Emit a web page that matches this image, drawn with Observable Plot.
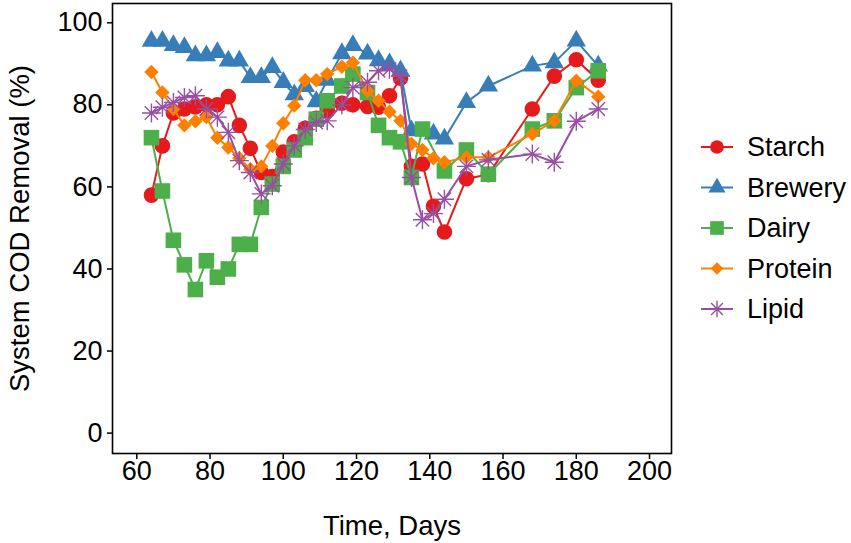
<!DOCTYPE html>
<html>
<head>
<meta charset="utf-8">
<script src="https://cdn.jsdelivr.net/npm/d3@7"></script>
<script src="https://cdn.jsdelivr.net/npm/@observablehq/plot@0.6"></script>
<style>
  body { margin: 0; background: #fff; }
  #wrap { position: relative; width: 851px; height: 543px; font-family: "Liberation Sans", Arial, sans-serif; }
  #legend { position: absolute; left: 690px; top: 120px; }
</style>
</head>
<body>
<div id="wrap"></div>
<script>
// ---- data ----
const days = [64, 67, 70, 73, 76, 79, 82, 85, 88, 91, 94, 97, 100, 103, 106, 109, 112, 116, 119, 123, 126, 129, 132, 135, 138, 141, 144, 150, 156, 168, 174, 180, 186];
const starch  = [58, 70, 78, 79, 79.5, 80, 80, 82, 75, 69.4, 63.5, 62.5, 68.5, 71, 74.3, 76.7, 78.6, 80.4, 80, 79.6, 79.4, 82.2, 86.5, 65, 65.6, 55.3, 49, 62, 63, 79, 87, 91, 86];
const brewery = [95.5, 95.5, 94.5, 94, 92, 92, 92.8, 90.7, 90.7, 86.7, 86.7, 89.1, 85.5, 82.5, 84.5, 80.8, 86, 92.5, 94.5, 92.4, 90.8, 90, 88.3, 73.7, null, 72.9, 71.7, 80.6, 84.6, 89.5, 90.3, 95.6, 89.5];
const dairy   = [72, 59, 47, 41, 35, 42, 38, 40, 46, 46, 55, 60.7, 65, 69, 72, 76.5, 81, 84.6, 87.5, 83, 75, 72, 71, 62.3, 74.1, null, 63.9, 69, 63.1, 74.1, 76.1, 84.2, 88.3];
const protein = [88, 83, 79, 75, 76, 77, 72, 69.6, 67, 64.3, 65, 70, 75.5, 79.8, 86, 86, 87.5, 89.3, 90.3, 83.4, 81, 78.3, 76.1, 70.5, 69, 67, 66, 67.2, 67.2, 72.9, 76.1, 85.9, 82];
const lipid   = [78, 79.4, 80.6, 81.8, 82.2, 79, 77, 73.3, 66.4, 63.5, 58.3, 60.3, 65.6, 70, 74, 75.7, 76.1, 80, 84.2, 85.5, 88.3, 88.7, 87, 62.3, 52, 53.5, 57, 65, 66.6, 68, 66, 76, 79];

const seriesNames  = ["Starch", "Brewery", "Dairy", "Protein", "Lipid"];
const seriesColors = ["#E41A1C", "#377EB8", "#4DAF4A", "#FF7F00", "#984EA3"];
const xTicks = [60, 80, 100, 120, 140, 160, 180, 200];
const yTicks = [0, 20, 40, 60, 80, 100];

// ---- custom symbols (size = r*r*PI) ----
const rad = s => Math.sqrt(s / Math.PI);
const symCircle = {draw(c, s) { const r = rad(s); c.moveTo(r, 0); c.arc(0, 0, r, 0, 2 * Math.PI); c.closePath(); }};
const symTriangle = {draw(c, s) { const r = rad(s); c.moveTo(0, -r); c.lineTo(r * 0.866, r * 0.5); c.lineTo(-r * 0.866, r * 0.5); c.closePath(); }};
const symSquare = {draw(c, s) { const r = rad(s); c.rect(-r, -r, 2 * r, 2 * r); }};
const symDiamond = {draw(c, s) { const r = rad(s); c.moveTo(0, -r); c.lineTo(r, 0); c.lineTo(0, r); c.lineTo(-r, 0); c.closePath(); }};
const symStar = {draw(c, s) { const r = rad(s), d = r * Math.SQRT1_2;
  c.moveTo(-r, 0); c.lineTo(r, 0); c.moveTo(0, -r); c.lineTo(0, r);
  c.moveTo(-d, -d); c.lineTo(d, d); c.moveTo(-d, d); c.lineTo(d, -d); }};

const seriesValues = [starch, brewery, dairy, protein, lipid];
const seriesSymbols = [symCircle, symTriangle, symSquare, symDiamond, symStar];
const seriesR = [7.8, 11.2, 7.8, 7.2, 9.5];
const seriesFilled = [true, true, true, true, false];

const rows = seriesNames.map((name, i) =>
  days.map((d, j) => ({series: name, day: d, value: seriesValues[i][j]})).filter(r => r.value != null));

const marks = [];
seriesNames.forEach((name, i) => {
  marks.push(Plot.line(rows[i], {x: "day", y: "value", stroke: seriesColors[i], strokeWidth: 2}));
  marks.push(Plot.dot(rows[i], {
    x: "day", y: "value", symbol: seriesSymbols[i], r: seriesR[i],
    fill: seriesFilled[i] ? seriesColors[i] : "none",
    stroke: seriesFilled[i] ? "none" : seriesColors[i],
    strokeWidth: seriesFilled[i] ? 0 : 1.4
  }));
});

const chart = Plot.plot({
  width: 851,
  height: 543,
  marginLeft: 112,
  marginRight: 180,
  marginTop: 3,
  marginBottom: 90,
  style: {fontFamily: "'Liberation Sans', Arial, sans-serif", background: "#fff", color: "#000"},
  x: {domain: [53.37, 206.0]},
  y: {domain: [-4.97, 104.7]},
  marks: [
    Plot.axisX({ticks: xTicks, tickSize: 6, tickPadding: 1, fontSize: 27, label: null, strokeWidth: 1.5}),
    Plot.axisY({ticks: yTicks, tickSize: 5, tickPadding: 5, fontSize: 27, label: null, strokeWidth: 1.5}),
    ...marks,
    Plot.frame({stroke: "#000", strokeWidth: 1.6}),
    Plot.text(["Time, Days"], {frameAnchor: "bottom", dy: 73, fontSize: 27.5, lineAnchor: "middle", textAnchor: "middle", fill: "#000"}),
    Plot.text(["System COD Removal (%)"], {frameAnchor: "left", dx: -92, rotate: -90, fontSize: 27.5, lineAnchor: "middle", textAnchor: "middle", fill: "#000"})
  ]
});
const wrap = document.getElementById("wrap");
wrap.appendChild(chart);

// ---- legend ----
const lg = d3.select(wrap).append("svg").attr("id", "legend").attr("width", 160).attr("height", 220);
const rowGap = 40.5;
seriesNames.forEach((name, i) => {
  const y = 27 + i * rowGap;
  const g = lg.append("g").attr("transform", `translate(0,${y})`);
  g.append("line").attr("x1", 11).attr("x2", 43).attr("y1", 0).attr("y2", 0)
    .attr("stroke", seriesColors[i]).attr("stroke-width", 2);
  const size = Math.PI * Math.pow(seriesR[i] * 0.88, 2);
  g.append("path").attr("transform", "translate(27,0)")
    .attr("d", d3.symbol(seriesSymbols[i], size)())
    .attr("fill", seriesFilled[i] ? seriesColors[i] : "none")
    .attr("stroke", seriesFilled[i] ? "none" : seriesColors[i])
    .attr("stroke-width", 1.4);
  g.append("text").attr("x", 57).attr("y", 0).attr("dy", "0.35em")
    .attr("font-size", 27).attr("font-family", "'Liberation Sans', Arial, sans-serif")
    .attr("fill", "#000").text(name);
});
</script>
</body>
</html>
